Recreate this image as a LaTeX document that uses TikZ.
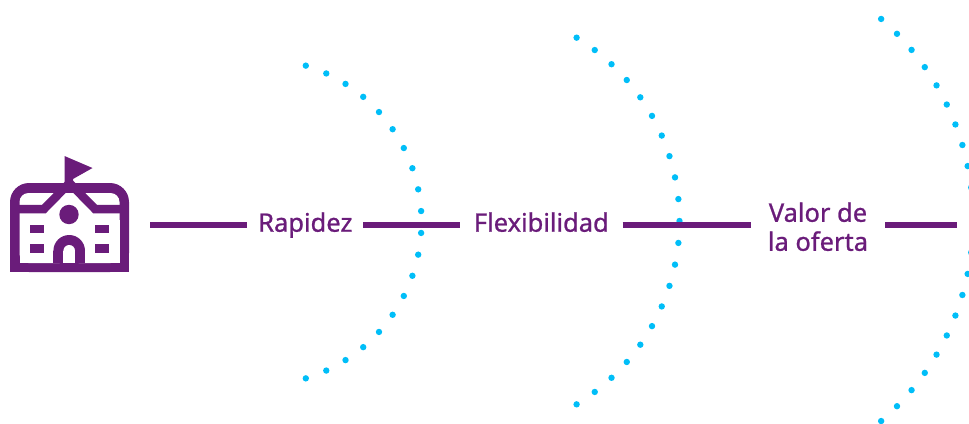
\documentclass[tikz,border=0pt]{standalone}
\usepackage{fontspec}
\setmainfont{Noto Sans}
\newfontfamily\labfont{Noto Sans}[FakeBold=0.9]
\definecolor{purp}{RGB}{106,28,122}
\definecolor{dotc}{RGB}{0,190,248}
\begin{document}
\begin{tikzpicture}[x=1pt,y=-1pt,
  labbase/.style={text=purp, font=\labfont\fontsize{25.5}{29}\selectfont, inner sep=0pt, outer sep=0pt},
  lab/.style={labbase, text height=18pt, text depth=4.6pt},
  conn/.style={draw=purp, line width=6.5pt},
  dotm/.style={fill=dotc}]
\useasboundingbox (0,0) rectangle (969,423);

% dotted arcs
\foreach \i in {0,...,19}
  \fill[dotm] ({258+163.5*cos(73-\i*146/19)},{222-163.5*sin(73-\i*146/19)}) circle[radius=3.2];
\foreach \i in {0,...,20}
  \fill[dotm] ({464.7+214.8*cos(58.6-\i*117.2/20)},{221-214.8*sin(58.6-\i*117.2/20)}) circle[radius=3.2];
\foreach \i in {0,...,21}
  \fill[dotm] ({707.6+265.6*cos(49.2-\i*98.4/21)},{220-265.6*sin(49.2-\i*98.4/21)}) circle[radius=3.2];

% icon
\node[minimum width=120pt, minimum height=94pt, inner sep=0pt, outer sep=0pt] (icon) at (70,225) {};
\fill[purp, rounded corners=19pt] (10,183) rectangle (129,272);
\fill[purp] (10,230) rectangle (129,272);
\fill[white, rounded corners=9pt] (19.5,193) rectangle (119.5,263);
\fill[white] (19.5,220) rectangle (119.5,263);
\draw[purp, line width=8.5pt] (19,209) -- (44,209) -- (69.5,183) -- (95,209) -- (120,209);
\fill[purp] (64.5,156) -- (92.5,168) -- (73,179) -- (73,186) -- (64.5,186) -- cycle;
\fill[purp] (69,214.5) circle[radius=9.7];
\fill[purp] (30,225) rectangle (44.3,233.3);
\fill[purp] (30,244.3) rectangle (44.3,252.7);
\fill[purp] (94.7,225) rectangle (109,233.3);
\fill[purp] (94.7,244.3) rectangle (109,252.7);
\fill[purp] (69.2,250.8) circle[radius=15.8];
\fill[purp] (53.4,250.8) rectangle (85,263);
\fill[white] (69.2,250.8) circle[radius=5.8];
\fill[white] (63.4,250.8) rectangle (75,263);

% labels
\node[lab, minimum width=116pt] (rap) at (305.3,225) {Rapidez};
\node[lab, minimum width=162.7pt] (flex) at (541.3,225) {Flexibilidad};
\node[labbase, align=center, minimum width=134pt] (valor) at (818,226.7) {Valor de\\la oferta};
\coordinate (endp) at (957.3,225);

% connectors
\draw[conn, shorten <=20pt] (icon.east) -- (rap.west);
\draw[conn] (rap.east) -- (flex.west);
\draw[conn] (flex.east) -- (flex.east -| valor.west);
\draw[conn] (endp -| valor.east) -- (endp);
\end{tikzpicture}
\end{document}
